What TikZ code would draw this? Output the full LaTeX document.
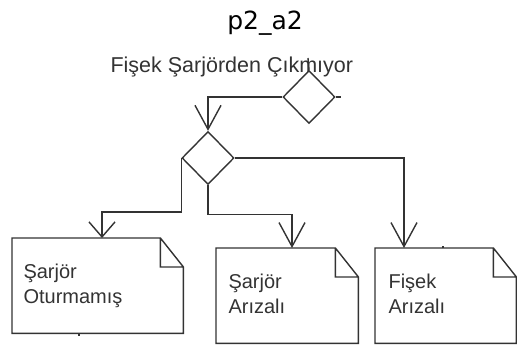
\documentclass[tikz,border=0pt]{standalone}
\usepackage{fontspec}
\setmainfont{Liberation Sans}
\newfontfamily\titlefont{DejaVu Sans}
\usetikzlibrary{shapes.geometric,arrows.meta,positioning}

\tikzset{
  edgeline/.style={draw=black!80, line width=1.4pt},
  decision/.style={diamond, edgeline, minimum width=52pt, minimum height=53pt, inner sep=0pt},
  docbox/.style={rectangle, minimum width=#1, minimum height=95pt, inner sep=0pt, anchor=north west},
  flow/.style={edgeline, -{Straight Barb[length=#1,width=26pt,line width=1.4pt]}},
  flow/.default=24pt,
  boxtext/.style={anchor=base west, align=left, text=black!80, font=\fontsize{20}{25}\selectfont},
}

\begin{document}
\begin{tikzpicture}[x=1pt, y=-1pt]
    % Page frame
    \fill[white] (0,0) rectangle (517,345);
    \useasboundingbox (0,0) rectangle (517,345);

    % Title and problem
    \node[font=\titlefont\fontsize{25}{30}\selectfont, anchor=base] (title) at (265,30) {p2\_a2};
    \node[boxtext, font=\fontsize{21.5}{25}\selectfont] (problem) at (107,73) {Fişek Şarjörden Çıkmıyor};

    % Decisions
    \node[decision] (d1) at (309,97) {};
    \node[decision] (d2) at (208,158) {};

    % Result boxes
    \node[docbox=171pt] (b1) at (12,238) {};
    \node[docbox=142pt] (b2) at (216,248) {};
    \node[docbox=141pt] (b3) at (375,248) {};
    \foreach \b in {b1,b2,b3}
        \draw[edgeline] (\b.north west) -- ([xshift=-23pt]\b.north east)
            -- ([yshift=-29pt]\b.north east) -- (\b.south east) -- (\b.south west) -- cycle
            ([xshift=-23pt]\b.north east) |- ([yshift=-29pt]\b.north east);

    \node[boxtext] (t1) at ([xshift=8pt,yshift=-65pt]b1.north west) {Şarjör\\Oturmamış};
    \node[boxtext] (t2) at ([xshift=9pt,yshift=-65pt]b2.north west) {Şarjör\\Arızalı};
    \node[boxtext] (t3) at ([xshift=10pt,yshift=-65pt]b3.north west) {Fişek\\Arızalı};

    % Connectors
    \draw[flow] (d1.west) -| (d2.north);
    \draw[flow] (d2.east) -| ([xshift=29pt]b3.north west);
    \draw[flow] (d2.south) -- ++(0,29) -| ([xshift=76pt]b2.north west);
    \draw[flow=15pt] (d2.west) -- ++(0,54) -| ([xshift=90pt]b1.north west);

    % Stubs
    \draw[edgeline] (308,58) -- (d1.north);
    \draw[edgeline] (d1.east) -- ++(5,0);
    \draw[edgeline] ([xshift=67pt]b1.south west) -- ++(0,3);
    \draw[edgeline] ([xshift=68pt]b3.north west) -- ++(0,-2);
\end{tikzpicture}
\end{document}
